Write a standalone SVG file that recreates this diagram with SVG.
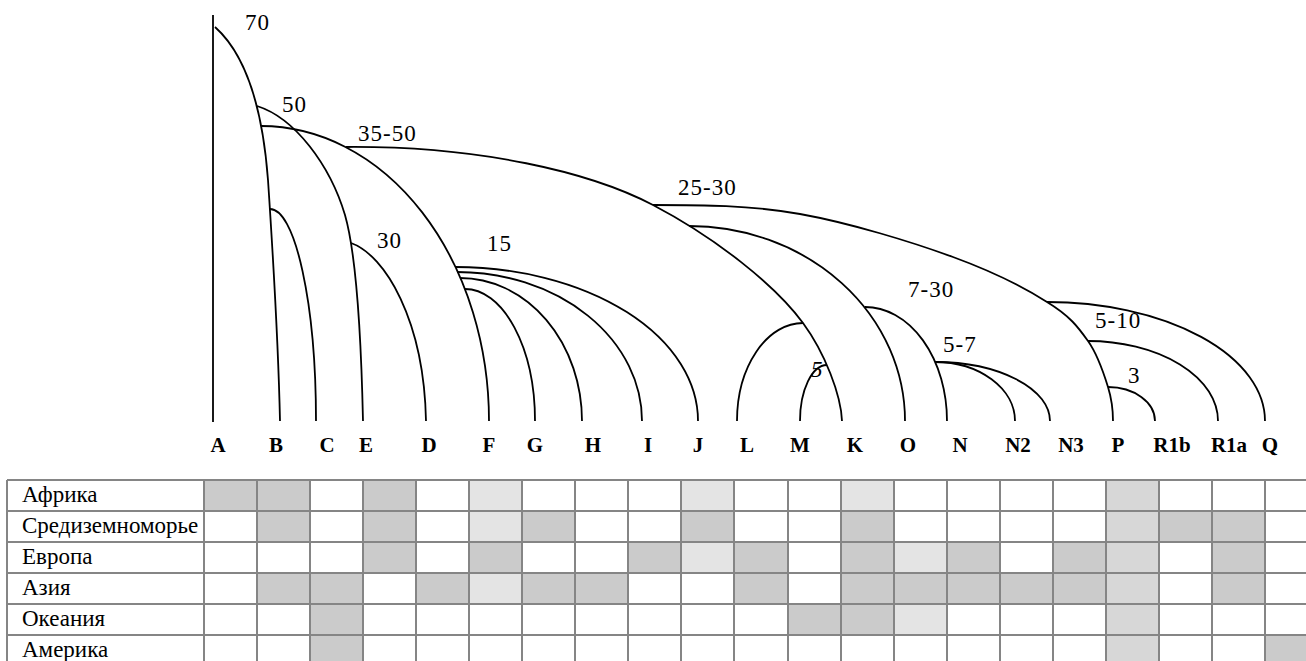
<svg xmlns="http://www.w3.org/2000/svg" width="1306" height="661" viewBox="0 0 1306 661">
  <style>
    .br { fill: none; stroke: #000; stroke-width: 1.8; }
    text { font-family: "Liberation Serif", "DejaVu Serif", serif; fill: #000; }
    .age { font-size: 23px; letter-spacing: 1px; }
    .leaf { font-size: 21px; font-weight: bold; text-anchor: middle; }
    .row { font-size: 23px; }
    .grid { stroke: #858585; stroke-width: 2; fill: none; }
    .d { fill: #cbcbcb; }
    .l { fill: #e4e4e4; }
    .m { fill: #d7d7d7; }
  </style>

  <rect width="1306" height="661" fill="#fff"/>

  <!-- haplogroup tree branches -->
  <g id="connectors">
    <path class="br" d="M213,15 L213,422"/>
    <!-- root -> B -->
    <path class="br" d="M215,27 C243,52 262,100 268,180 C272,240 278,330 280,421"/>
    <!-- B -> C -->
    <path class="br" d="M270,209 A46,212 0 0 1 316,421"/>
    <!-- 50 -> E -->
    <path class="br" d="M257,106 C295,118 330,165 345,215 C355,250 361,330 363,421"/>
    <!-- 30 -> D -->
    <path class="br" d="M351,243 C385,255 424,320 426,421"/>
    <!-- 35-50 -> F -->
    <path class="br" d="M261,126 A228,295 0 0 1 489,421"/>
    <!-- 15 -> G H I J -->
    <path class="br" d="M455,267 A243,154 0 0 1 698,421"/>
    <path class="br" d="M457,272 A185,149 0 0 1 642,421"/>
    <path class="br" d="M460,278 A122,143 0 0 1 582,421"/>
    <path class="br" d="M465,289 A70,132 0 0 1 535,421"/>
    <!-- 35-50 -> K -->
    <path class="br" d="M346,147 C480,146 590,172 653,205 C716,238 775,285 803,323 C825,353 841,395 842,421"/>
    <!-- L and M -->
    <path class="br" d="M803,323 A66,98 0 0 0 737,421"/>
    <path class="br" d="M827,365 A27,56 0 0 0 800,421"/>
    <!-- O, 7-30 -> N, 5-7 -> N2 N3 -->
    <path class="br" d="M689,226 A216,195 0 0 1 905,421"/>
    <path class="br" d="M865,307 A82,114 0 0 1 947,421"/>
    <path class="br" d="M935,362 A80,59 0 0 1 1015,421"/>
    <path class="br" d="M935,362 A115,59 0 0 1 1050,421"/>
    <!-- 25-30 -> P -->
    <path class="br" d="M653,205 C702,205 750,205 800,214 C850,223 912,242 953,257 C994,272 1025,288 1047,302 C1070,316 1078,327 1088,341 C1098,355 1104,374 1108,387 C1112,400 1113,410 1113,421"/>
    <!-- 5-10 -> Q, R1a ; 3 -> R1b -->
    <path class="br" d="M1047,302 A218,119 0 0 1 1265,421"/>
    <path class="br" d="M1088,341 A130,80 0 0 1 1218,421"/>
    <path class="br" d="M1108,387 A47,34 0 0 1 1155,421"/>
  </g>

  <!-- branch ages, thousand years -->
  <g id="ages">
    <text class="age" x="245" y="30">70</text>
    <text class="age" x="282" y="112">50</text>
    <text class="age" x="358" y="141">35-50</text>
    <text class="age" x="678" y="195">25-30</text>
    <text class="age" x="377" y="248">30</text>
    <text class="age" x="487" y="251">15</text>
    <text class="age" x="908" y="297">7-30</text>
    <text class="age" x="943" y="352">5-7</text>
    <text class="age" x="811" y="377" font-style="italic">5</text>
    <text class="age" x="1095" y="328">5-10</text>
    <text class="age" x="1128" y="383">3</text>
  </g>

  <!-- leaf haplogroups -->
  <g id="node-A"><text class="leaf" x="218" y="452">A</text></g>
  <g id="node-B"><text class="leaf" x="276" y="452">B</text></g>
  <g id="node-C"><text class="leaf" x="327" y="452">C</text></g>
  <g id="node-E"><text class="leaf" x="366" y="452">E</text></g>
  <g id="node-D"><text class="leaf" x="429" y="452">D</text></g>
  <g id="node-F"><text class="leaf" x="489" y="452">F</text></g>
  <g id="node-G"><text class="leaf" x="535" y="452">G</text></g>
  <g id="node-H"><text class="leaf" x="593" y="452">H</text></g>
  <g id="node-I"><text class="leaf" x="648" y="452">I</text></g>
  <g id="node-J"><text class="leaf" x="698" y="452">J</text></g>
  <g id="node-L"><text class="leaf" x="747" y="452">L</text></g>
  <g id="node-M"><text class="leaf" x="800" y="452">M</text></g>
  <g id="node-K"><text class="leaf" x="855" y="452">K</text></g>
  <g id="node-O"><text class="leaf" x="908" y="452">O</text></g>
  <g id="node-N"><text class="leaf" x="960" y="452">N</text></g>
  <g id="node-N2"><text class="leaf" x="1018" y="452">N2</text></g>
  <g id="node-N3"><text class="leaf" x="1071" y="452">N3</text></g>
  <g id="node-P"><text class="leaf" x="1118" y="452">P</text></g>
  <g id="node-R1b"><text class="leaf" x="1172" y="452">R1b</text></g>
  <g id="node-R1a"><text class="leaf" x="1229" y="452">R1a</text></g>
  <g id="node-Q"><text class="leaf" x="1270" y="452">Q</text></g>

  <!-- regional distribution table -->
  <g id="table">
    <!-- Африка -->
    <rect class="d" x="204" y="480" width="53" height="31"/>
    <rect class="d" x="257" y="480" width="53" height="31"/>
    <rect class="d" x="363" y="480" width="53" height="31"/>
    <rect class="l" x="469" y="480" width="53" height="31"/>
    <rect class="l" x="681" y="480" width="53" height="31"/>
    <rect class="l" x="841" y="480" width="53" height="31"/>
    <rect class="m" x="1106" y="480" width="53" height="31"/>
    <!-- Средиземноморье -->
    <rect class="d" x="257" y="511" width="53" height="31"/>
    <rect class="d" x="363" y="511" width="53" height="31"/>
    <rect class="l" x="469" y="511" width="53" height="31"/>
    <rect class="d" x="522" y="511" width="53" height="31"/>
    <rect class="d" x="681" y="511" width="53" height="31"/>
    <rect class="d" x="841" y="511" width="53" height="31"/>
    <rect class="m" x="1106" y="511" width="53" height="31"/>
    <rect class="d" x="1159" y="511" width="53" height="31"/>
    <rect class="d" x="1212" y="511" width="53" height="31"/>
    <!-- Европа -->
    <rect class="d" x="363" y="542" width="53" height="31"/>
    <rect class="d" x="469" y="542" width="53" height="31"/>
    <rect class="d" x="628" y="542" width="53" height="31"/>
    <rect class="l" x="681" y="542" width="53" height="31"/>
    <rect class="d" x="734" y="542" width="54" height="31"/>
    <rect class="d" x="841" y="542" width="53" height="31"/>
    <rect class="l" x="894" y="542" width="53" height="31"/>
    <rect class="d" x="947" y="542" width="53" height="31"/>
    <rect class="d" x="1053" y="542" width="53" height="31"/>
    <rect class="m" x="1106" y="542" width="53" height="31"/>
    <rect class="d" x="1212" y="542" width="53" height="31"/>
    <!-- Азия -->
    <rect class="d" x="257" y="573" width="53" height="31"/>
    <rect class="d" x="310" y="573" width="53" height="31"/>
    <rect class="d" x="416" y="573" width="53" height="31"/>
    <rect class="l" x="469" y="573" width="53" height="31"/>
    <rect class="d" x="522" y="573" width="53" height="31"/>
    <rect class="d" x="575" y="573" width="53" height="31"/>
    <rect class="d" x="734" y="573" width="54" height="31"/>
    <rect class="d" x="841" y="573" width="53" height="31"/>
    <rect class="d" x="894" y="573" width="53" height="31"/>
    <rect class="d" x="947" y="573" width="53" height="31"/>
    <rect class="d" x="1000" y="573" width="53" height="31"/>
    <rect class="d" x="1053" y="573" width="53" height="31"/>
    <rect class="m" x="1106" y="573" width="53" height="31"/>
    <rect class="d" x="1212" y="573" width="53" height="31"/>
    <!-- Океания -->
    <rect class="d" x="310" y="604" width="53" height="31"/>
    <rect class="d" x="788" y="604" width="53" height="31"/>
    <rect class="d" x="841" y="604" width="53" height="31"/>
    <rect class="l" x="894" y="604" width="53" height="31"/>
    <rect class="m" x="1106" y="604" width="53" height="31"/>
    <!-- Америка -->
    <rect class="d" x="310" y="635" width="53" height="31"/>
    <rect class="m" x="1106" y="635" width="53" height="31"/>
    <rect class="d" x="1265" y="635" width="53" height="31"/>

    <!-- grid -->
    <path class="grid" d="M7,480 H1306 M7,511 H1306 M7,542 H1306 M7,573 H1306 M7,604 H1306 M7,635 H1306"/>
    <path class="grid" d="M7,480 V661 M204,480 V661 M257,480 V661 M310,480 V661 M363,480 V661 M416,480 V661 M469,480 V661 M522,480 V661 M575,480 V661 M628,480 V661 M681,480 V661 M734,480 V661 M788,480 V661 M841,480 V661 M894,480 V661 M947,480 V661 M1000,480 V661 M1053,480 V661 M1106,480 V661 M1159,480 V661 M1212,480 V661 M1265,480 V661"/>

    <text class="row" x="22" y="502">Африка</text>
    <text class="row" x="22" y="533">Средиземноморье</text>
    <text class="row" x="22" y="564">Европа</text>
    <text class="row" x="22" y="595">Азия</text>
    <text class="row" x="22" y="626">Океания</text>
    <text class="row" x="22" y="657">Америка</text>
  </g>
</svg>
